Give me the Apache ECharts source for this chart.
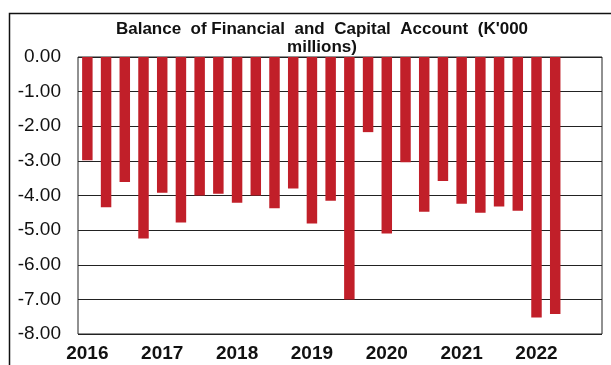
<!DOCTYPE html>
<html>
<head>
<meta charset="utf-8">
<script src="https://cdn.jsdelivr.net/npm/echarts@6/dist/echarts.min.js"></script>
<style>
  html, body { margin: 0; padding: 0; background: #fff; }
  #chart { width: 611px; height: 365px; }
</style>
</head>
<body>
<div id="chart"></div>
<script>
// Quarterly periods, 2016 Q1 to 2022 Q4
const years = ['2016', '2017', '2018', '2019', '2020', '2021', '2022'];
const quarters = years.flatMap(y => ['Q1', 'Q2', 'Q3', 'Q4'].map(q => y + q));

// Balance of financial and capital account, K'000 millions (no data for the last two quarters)
const balance = [
  -2.98, -4.34, -3.61, -5.24,
  -3.92, -4.78, -4.00, -3.95,
  -4.21, -4.00, -4.37, -3.80,
  -4.81, -4.15, -7.00, -2.17,
  -5.10, -3.04, -4.47, -3.58,
  -4.24, -4.50, -4.32, -4.44,
  -7.52, -7.42, null, null
];

const chart = echarts.init(document.getElementById('chart'), null, { renderer: 'canvas' });

chart.setOption({
  animation: false,
  backgroundColor: '#fff',
  title: {
    text: "Balance  of Financial  and  Capital  Account  (K'000\nmillions)",
    left: 317,
    top: 15,
    textAlign: 'center',
    textStyle: {
      fontFamily: 'Liberation Sans, Arial, sans-serif',
      fontSize: 17,
      fontWeight: 'bold',
      color: '#111',
      lineHeight: 18
    }
  },
  graphic: [{
    type: 'rect',
    silent: true,
    shape: { x: 9.5, y: 13.5, width: 700, height: 500 },
    style: { fill: 'none', stroke: '#111', lineWidth: 1.5 }
  }],
  grid: {
    left: 78,
    right: 9,
    top: 57,
    bottom: 31,
    show: true,
    borderColor: '#222',
    borderWidth: 1,
    containLabel: false
  },
  xAxis: {
    type: 'category',
    data: quarters,
    axisLine: { show: false },
    axisTick: { show: false },
    axisLabel: {
      interval: 3,
      margin: 10,
      formatter: v => v.slice(0, 4),
      fontFamily: 'Liberation Sans, Arial, sans-serif',
      fontSize: 19,
      fontWeight: 'bold',
      color: '#111'
    }
  },
  yAxis: {
    type: 'value',
    min: -8,
    max: 0,
    interval: 1,
    axisLine: { show: false },
    axisTick: { show: false },
    splitLine: { lineStyle: { color: '#222', width: 1 } },
    axisLabel: {
      margin: 17,
      formatter: v => v.toFixed(2),
      fontFamily: 'Liberation Sans, Arial, sans-serif',
      fontSize: 19,
      color: '#111'
    }
  },
  series: [{
    type: 'bar',
    data: balance,
    barWidth: '56%',
    itemStyle: { color: '#c11f29' }
  }]
});
</script>
</body>
</html>
